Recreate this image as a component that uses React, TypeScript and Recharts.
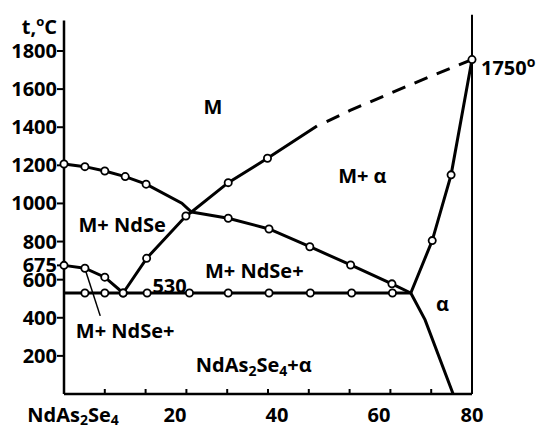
import React from 'react';
import { ComposedChart, Line, XAxis, YAxis, ReferenceLine, ReferenceDot } from 'recharts';

const FONT = '"Open Sans", "Noto Sans", sans-serif';

// x = composition position along the axis (0..80), t = temperature in °C, m = open circle
const eutectic530 = [
  { x: 0, t: 530, m: 0 },
  { x: 4.1, t: 530, m: 1 },
  { x: 8.0, t: 530, m: 1 },
  { x: 16.3, t: 530, m: 1 },
  { x: 24.6, t: 530, m: 1 },
  { x: 32.2, t: 530, m: 1 },
  { x: 40.2, t: 530, m: 1 },
  { x: 48.3, t: 530, m: 1 },
  { x: 56.4, t: 530, m: 1 },
  { x: 64.4, t: 530, m: 1 },
  { x: 68.0, t: 530, m: 0 },
];

const ndseLiquidus = [
  { x: 0, t: 1207, m: 1 },
  { x: 4.1, t: 1193, m: 1 },
  { x: 8.0, t: 1170, m: 1 },
  { x: 12.0, t: 1141, m: 1 },
  { x: 16.1, t: 1101, m: 1 },
  { x: 23.1, t: 1001, m: 0 },
  { x: 25.0, t: 955, m: 0 },
];

const ndseBranch = [
  { x: 25.0, t: 955, m: 0 },
  { x: 32.2, t: 922, m: 1 },
  { x: 40.2, t: 866, m: 1 },
  { x: 48.2, t: 773, m: 1 },
  { x: 56.2, t: 677, m: 1 },
  { x: 64.3, t: 578, m: 1 },
  { x: 68.0, t: 530, m: 0 },
];

const leftLiquidus = [
  { x: 0, t: 675, m: 1 },
  { x: 4.1, t: 660, m: 1 },
  { x: 8.0, t: 613, m: 1 },
  { x: 11.6, t: 530, m: 1 },
];

const meltLiquidus = [
  { x: 11.6, t: 530, m: 1 },
  { x: 16.2, t: 712, m: 1 },
  { x: 23.9, t: 934, m: 1 },
  { x: 25.0, t: 955, m: 0 },
  { x: 32.2, t: 1109, m: 1 },
  { x: 39.9, t: 1237, m: 1 },
  { x: 49.6, t: 1407, m: 0 },
];

const meltDashed = [
  { x: 51.5, t: 1429 },
  { x: 56.1, t: 1488 },
  { x: 63.9, t: 1577 },
  { x: 71.8, t: 1666 },
  { x: 80, t: 1755 },
];

const alphaLiquidus = [
  { x: 68.0, t: 530, m: 0 },
  { x: 72.2, t: 805, m: 1 },
  { x: 75.9, t: 1150, m: 1 },
  { x: 80, t: 1755, m: 1 },
];

const alphaSolvus = [
  { x: 68.0, t: 530 },
  { x: 70.8, t: 389 },
  { x: 76.3, t: 0 },
];

const pointer = [
  { x: 4.3, t: 641 },
  { x: 7.1, t: 410 },
];

const tempTicks = [200, 400, 600, 675, 800, 1000, 1200, 1400, 1600, 1800];
const compTicks = [0, 8, 16, 24, 32, 40, 48, 56, 64, 72, 80];
const compLabels = [0, 20, 40, 60, 80];
const allCompTicks = Array.from(new Set([...compTicks, ...compLabels])).sort((a, b) => a - b);

const txt = { fontFamily: FONT, fontWeight: 700, fontSize: 20, fill: '#000' };

const Marker = (p: any) => {
  const { cx, cy, payload, index } = p;
  if (!payload || !payload.m) return <g key={`n-${index}`} />;
  return <circle key={`c-${index}`} cx={cx} cy={cy} r={3.6} fill="#fff" stroke="#000" strokeWidth={1.8} />;
};

const TempTick = (p: any) => {
  const { x, y, payload } = p;
  return <text x={x} y={y + 7} textAnchor="end" {...txt}>{payload.value}</text>;
};

// bottom axis: short inward tick marks plus the composition labels
const CompTick = (p: any) => {
  const { x, y, payload } = p;
  const v = payload.value;
  const mark = compTicks.includes(v) ? <line x1={x} x2={x} y1={y} y2={y - 5} stroke="#000" strokeWidth={2} /> : null;
  let label: React.ReactNode = null;
  if (compLabels.includes(v)) {
    const lx = x + (v === 80 ? 0 : 9);
    label =
      v === 0 ? (
        <text x={lx} y={y + 28} textAnchor="middle" {...txt}>
          NdAs<tspan dy={3} fontSize={14}>2</tspan>
          <tspan dy={-3}>Se</tspan>
          <tspan dy={3} fontSize={14}>4</tspan>
        </text>
      ) : (
        <text x={lx} y={y + 28} textAnchor="middle" {...txt}>{v}</text>
      );
  }
  return (
    <g>
      {mark}
      {label}
    </g>
  );
};

const note = (key: string, x: number, t: number, body: React.ReactNode, anchor: 'start' | 'middle' | 'end' = 'middle', dx = 0, dy = 7) => (
  <ReferenceDot
    key={key}
    x={x}
    y={t}
    r={0}
    fill="none"
    stroke="none"
    ifOverflow="visible"
    label={(props: any) => {
      const vb = props.viewBox || { x: 0, y: 0 };
      return (
        <text x={vb.x + dx} y={vb.y + dy} textAnchor={anchor} {...txt}>
          {body}
        </text>
      );
    }}
  />
);

const line = (key: string, data: any[], extra: any = {}) => (
  <Line
    key={key}
    data={data}
    dataKey="t"
    type="linear"
    stroke="#000"
    strokeWidth={3}
    dot={Marker}
    activeDot={false}
    isAnimationActive={false}
    {...extra}
  />
);

export default function App() {
  return (
    <div style={{ position: 'absolute', left: 0, top: 0, width: 542, height: 429, background: '#fff' }}>
      <ComposedChart width={542} height={429} margin={{ top: 20.5, right: 70, bottom: 1, left: 0 }}>
        <XAxis
          type="number"
          dataKey="x"
          domain={[0, 80]}
          ticks={allCompTicks}
          height={34}
          tickSize={0}
          tickMargin={0}
          tickLine={false}
          axisLine={{ stroke: '#000', strokeWidth: 2.5 }}
          tick={<CompTick />}
          interval={0}
        />
        <YAxis
          type="number"
          domain={[0, 1960]}
          ticks={tempTicks}
          width={64}
          tickSize={7}
          tickMargin={0}
          interval={0}
          axisLine={{ stroke: '#000', strokeWidth: 2.5 }}
          tickLine={{ stroke: '#000', strokeWidth: 2 }}
          tick={<TempTick />}
        />
        <ReferenceLine
          segment={[{ x: 80, y: 0 }, { x: 80, y: 1990 }]}
          stroke="#000"
          strokeWidth={2}
          ifOverflow="visible"
        />
        {line('eut', eutectic530)}
        {line('ndse', ndseLiquidus)}
        {line('branch', ndseBranch)}
        {line('left', leftLiquidus)}
        {line('solvus', alphaSolvus, { dot: false })}
        {line('alpha', alphaLiquidus)}
        {line('melt', meltLiquidus)}
        {line('dash', meltDashed, { dot: false, strokeDasharray: '14 10' })}
        {line('ptr', pointer, { dot: false, strokeWidth: 1.5 })}
        {note('tc', 0, 1960, <>t,<tspan dy={-8} fontSize={13}>o</tspan><tspan dy={8}>C</tspan></>, 'end', -7, 13.5)}
        {note('t1750', 80, 1755, <>1750<tspan dy={-8} fontSize={14}>o</tspan></>, 'start', 9, 15)}
        {note('M', 29.2, 1504, 'M')}
        {note('Ma', 58.5, 1144, 'M+ α')}
        {note('MN', 11.4, 887, 'M+ NdSe')}
        {note('MN2', 37.3, 646, 'M+ NdSe+')}
        {note('530', 20.7, 567, '530')}
        {note('MN3', 12.0, 331, 'M+ NdSe+')}
        {note('NA', 37.2, 150, <>NdAs<tspan dy={4} fontSize={14}>2</tspan><tspan dy={-4}>Se</tspan><tspan dy={4} fontSize={14}>4</tspan><tspan dy={-4}>+α</tspan></>)}
        {note('al', 74.2, 473, 'α')}
      </ComposedChart>
    </div>
  );
}
